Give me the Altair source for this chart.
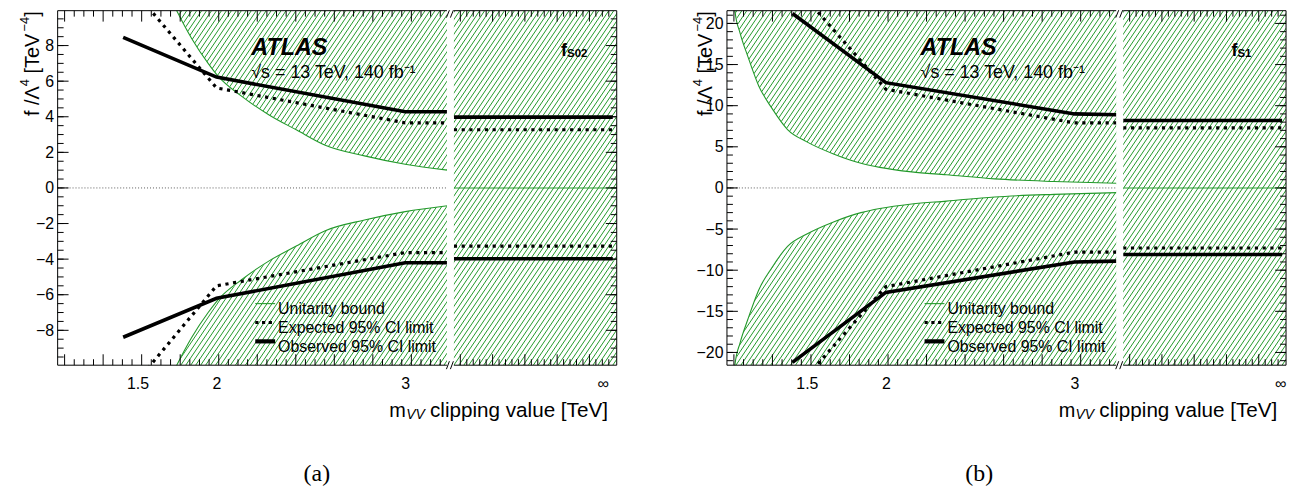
import altair as alt
import pandas as pd

# ---------------- values ----------------
# panel (a): f_S02
A_CLIP = [1.4, 2.0, 3.0, 3.2]
A_OBS_HI = [8.46, 6.23, 4.28, 4.28]
A_OBS_LO = [-8.39, -6.20, -4.20, -4.20]
A_EXP_HI = [11.8, 5.62, 3.66, 3.66]
A_EXP_LO = [-11.8, -5.50, -3.63, -3.63]
A_INF_OBS = [3.98, -3.98]
A_INF_EXP = [3.27, -3.27]
A_UB_X = [0.886, 1.757, 1.85, 1.95, 2.01, 2.145, 2.3, 2.45, 2.6, 2.8, 3.0, 3.2]
A_UB = [30.0, 9.96, 8.4, 7.0, 6.27, 5.16, 4.1, 3.25, 2.4, 1.8, 1.33, 1.0]
A_YMAX = 9.96
A_YMAJ = [-8, -6, -4, -2, 0, 2, 4, 6, 8]
A_YMIN = [v / 2 for v in range(-19, 20)]

# panel (b): f_S1
B_CLIP = [1.4, 2.0, 3.0, 3.2]
B_OBS_HI = [21.2, 12.8, 9.0, 8.9]
B_OBS_LO = [-21.2, -12.7, -9.0, -8.9]
B_EXP_HI = [24.9, 12.0, 7.9, 7.9]
B_EXP_LO = [-24.9, -12.0, -7.8, -7.8]
B_INF_OBS = [8.2, -8.1]
B_INF_EXP = [7.3, -7.3]
B_UB_X = [0.886, 0.956, 1.0, 1.063, 1.15, 1.25, 1.365, 1.5, 1.681, 1.85, 1.964, 2.15, 2.344, 2.6, 2.9, 3.2]
B_UB = [60.0, 21.5, 18.8, 16.0, 12.4, 9.7, 7.1, 5.6, 4.1, 3.0, 2.5, 1.95, 1.6, 1.1, 0.78, 0.57]
B_YMAX = 21.55
B_YMAJ = [-20, -15, -10, -5, 0, 5, 10, 15, 20]
B_YMIN = list(range(-21, 22))

X_TICKS = [1.5, 2, 3]
LEGEND_LABELS = ["Unitarity bound", "Expected 95% CI limit", "Observed 95% CI limit"]

# ---------------- layout / style ----------------
W, H = 563, 357
GAP0, GAP1 = 392, 399
XDOM = [0.8863, 3.950]
FONT = "Liberation Sans"
GREEN = "#22992a"

# y-title pieces: (text, leading space in em, advance in em, is_superscript)
YTITLE = [("f /Λ", 0.0, 1.501, False), ("4", 0.0, 0.556, True), ("[TeV", 0.278, 2.112, False),
          ("−4", 0.0, 1.140, True), ("]", 0.0, 0.278, False)]


def one():
    return pd.DataFrame({"o": [0]})


def txt(t, x, y, size, **kw):
    font = kw.pop("font", FONT)
    return alt.Chart(one()).mark_text(text=t, fontSize=size, font=font, color="black", **kw).encode(
        x=alt.value(x), y=alt.value(y))


def seg(x1, y1, x2, y2, color="black", width=1.0, dash=None, opacity=1.0):
    kw = dict(color=color, strokeWidth=width, opacity=opacity)
    if dash:
        kw["strokeDash"] = dash
    return alt.Chart(one()).mark_rule(**kw).encode(
        x=alt.value(x1), y=alt.value(y1), x2=alt.value(x2), y2=alt.value(y2))


def pix_ticks(start, step, n, every, limit):
    base = alt.Chart(alt.sequence(0, n, as_="k")).transform_calculate(
        px=f"{start} + {step} * datum.k").transform_filter(f"datum.px <= {limit}")
    out = []
    for major in (True, False):
        b = base.transform_filter(f"datum.k % {every} {'==' if major else '!='} 0")
        ln = 11 if major else 6
        for (y1, y2) in ((H, H - ln), (0, ln)):
            out.append(b.mark_rule(color="black", strokeWidth=1).encode(
                x=alt.X("px:Q", scale=None, axis=None), y=alt.value(y1), y2=alt.value(y2)))
    return out


def ytitle(xb):
    out = []
    y = 106.0
    for t, lead, em, sup in YTITLE:
        size = 13 if sup else 20
        y -= lead * size
        out.append(txt(t, xb - (8 if sup else 0), y, size, angle=270, align="left"))
        y -= em * size
    return out


def panel(P):
    xs = alt.Scale(type="pow", exponent=1.5, domain=XDOM, nice=False, zero=False)
    ys = alt.Scale(domain=[-P["ymax"], P["ymax"]], nice=False, zero=False)
    xaxis = alt.Axis(values=X_TICKS + [P["xinf"]],
                     labelExpr="datum.value > 3.5 ? '∞' : format(datum.value, '~g')",
                     ticks=False, tickSize=0, domain=False, grid=False, labelFont=FONT,
                     labelFontSize=16, labelPadding=10, labelColor="black", labelOverlap=False,
                     labelFlush=False, labelBound=False, title=None)
    yaxis = alt.Axis(values=P["ymaj"], ticks=False, tickSize=0, domain=False, grid=False,
                     labelFont=FONT, labelFontSize=16, labelPadding=4, labelColor="black",
                     labelOverlap=False, labelFlush=False, title=None)

    def X(f):
        return alt.X(f, type="quantitative", scale=xs, axis=xaxis)

    def Y(f):
        return alt.Y(f, type="quantitative", scale=ys, axis=yaxis)

    n = len(P["clip"])
    ub = pd.DataFrame({"x": P["ub_x"], "hi": P["ub"], "lo": [-v for v in P["ub"]]})
    obs = pd.DataFrame({"x": P["clip"] * 2, "v": P["obs_hi"] + P["obs_lo"], "b": ["hi"] * n + ["lo"] * n})
    exp = pd.DataFrame({"x": P["clip"] * 2, "v": P["exp_hi"] + P["exp_lo"], "b": ["hi"] * n + ["lo"] * n})
    inf_obs = pd.DataFrame({"v": P["inf_obs"]})
    inf_exp = pd.DataFrame({"v": P["inf_exp"]})

    main = [
        alt.Chart(ub).mark_area(color="white", opacity=1, clip=True, orient="vertical").encode(
            x=X("x"), y=Y("lo"), y2=alt.Y2("hi")),
        alt.Chart(ub).mark_line(color=GREEN, strokeWidth=1.1, clip=True, interpolate="monotone").encode(
            x=X("x"), y=Y("hi")),
        alt.Chart(ub).mark_line(color=GREEN, strokeWidth=1.1, clip=True, interpolate="monotone").encode(
            x=X("x"), y=Y("lo")),
        alt.Chart(one()).mark_rule(color="#333333", strokeWidth=0.8, strokeDash=[1, 2]).encode(
            x=alt.value(0), x2=alt.value(GAP0), y=alt.Y(datum=0, scale=ys, axis=yaxis)),
        alt.Chart(one()).mark_rule(color=GREEN, strokeWidth=1.1).encode(
            x=alt.value(GAP1), x2=alt.value(W), y=alt.Y(datum=0, scale=ys, axis=yaxis)),
        alt.Chart(exp).mark_line(color="black", strokeWidth=3.2, strokeDash=[3.2, 4.6], clip=True).encode(
            x=X("x"), y=Y("v"), detail="b:N"),
        alt.Chart(obs).mark_line(color="black", strokeWidth=3.6, clip=True).encode(
            x=X("x"), y=Y("v"), detail="b:N"),
        alt.Chart(inf_exp).mark_rule(color="black", strokeWidth=3.2, strokeDash=[3.2, 4.6]).encode(
            y=Y("v"), x=alt.value(GAP1), x2=alt.value(W - 4)),
        alt.Chart(inf_obs).mark_rule(color="black", strokeWidth=3.6).encode(
            y=Y("v"), x=alt.value(GAP1), x2=alt.value(W - 4)),
        alt.Chart(one()).mark_rect(color="white").encode(
            x=alt.value(GAP0), x2=alt.value(GAP1), y=alt.value(0), y2=alt.value(H)),
    ]
    # y ticks (left and right, inward)
    for vals, ln in ((P["ymaj"], 11), (P["ymin"], 6)):
        d = pd.DataFrame({"v": vals})
        main.append(alt.Chart(d).mark_rule(color="black", strokeWidth=1).encode(
            y=Y("v"), x=alt.value(0), x2=alt.value(ln)))
        main.append(alt.Chart(d).mark_rule(color="black", strokeWidth=1).encode(
            y=Y("v"), x=alt.value(W), x2=alt.value(W - ln)))
    # frame with axis break, plus an invisible guide fixing the left extent
    main += [
        seg(-49.5, -1, -49.5, H, opacity=0),
        seg(0, 0, 0, H), seg(W, 0, W, H),
        seg(0, 0, GAP0, 0), seg(GAP1, 0, W, 0),
        seg(0, H, GAP0, H), seg(GAP1, H, W, H),
        seg(391.5, H + 4, 394.5, H - 4), seg(395.5, H + 4, 398.5, H - 4),
        seg(391.5, 7, 394.5, -0.5), seg(395.5, 7, 398.5, -0.5),
    ]
    # texts
    main += [
        txt("ATLAS", 195, 38, 23.5, fontWeight="bold", fontStyle="italic", align="left"),
        txt("√s = 13 TeV, 140 fb⁻¹", 195, 63, 18, align="left"),
        txt("f", P["fx"], 41, 18, fontWeight="bold", align="left"),
        txt(P["sub"], P["fx"] + 6, 44, 11.5, fontWeight="bold", align="left"),
        txt("m", 334, H + 46, 20, align="left"),
        txt("VV", 351, H + 50, 14, fontStyle="italic", align="left"),
        txt("clipping value [TeV]", 375, H + 46, 20.8, align="left"),
        txt(P["tag"], P["tagx"], 467, 24, font="Liberation Serif", align="center"),
    ]
    main += ytitle(P["ytx"])
    # legend
    ly = [295, 314, 333]
    main += [
        seg(199, ly[0], 219, ly[0], color=GREEN, width=1.1),
        seg(199, ly[1], 219, ly[1], color="black", width=3.2, dash=[3.2, 3.6]),
        seg(199, ly[2], 219, ly[2], color="black", width=4.2),
    ]
    for i, lab in enumerate(LEGEND_LABELS):
        main.append(txt(lab, 222, ly[i] + 5.5, 16, align="left"))

    hatch = alt.Chart(alt.sequence(0, 170, as_="k")).transform_calculate(
        a="datum.k * 5.0 - 241", b="datum.k * 5.0").mark_rule(
        color=GREEN, strokeWidth=1.0, clip=True).encode(
        x=alt.X("a:Q", scale=None, axis=None), x2=alt.X2("b:Q"), y=alt.value(H), y2=alt.value(0))

    ticks = pix_ticks(7, 9.7, 42, 4, GAP0 - 2) + pix_ticks(GAP1 + 6.5, 6.5, 30, 5, W - 2)

    return alt.layer(hatch, alt.layer(*main), alt.layer(*ticks)).resolve_scale(
        x="independent").properties(width=W, height=H)


PA = dict(clip=A_CLIP, obs_hi=A_OBS_HI, obs_lo=A_OBS_LO, exp_hi=A_EXP_HI, exp_lo=A_EXP_LO,
          inf_obs=A_INF_OBS, inf_exp=A_INF_EXP, ub_x=A_UB_X, ub=A_UB, ymax=A_YMAX,
          ymaj=A_YMAJ, ymin=A_YMIN, sub="S02", fx=507, ytx=-25, tag="(a)", tagx=261, xinf=3.891)
PB = dict(clip=B_CLIP, obs_hi=B_OBS_HI, obs_lo=B_OBS_LO, exp_hi=B_EXP_HI, exp_lo=B_EXP_LO,
          inf_obs=B_INF_OBS, inf_exp=B_INF_EXP, ub_x=B_UB_X, ub=B_UB, ymax=B_YMAX,
          ymaj=B_YMAJ, ymin=B_YMIN, sub="S1", fx=508, ytx=-21, tag="(b)", tagx=254, xinf=3.925)

chart = alt.hconcat(panel(PA), panel(PB), spacing=60).properties(
    padding={"left": 0, "top": 0, "right": 5, "bottom": 5}
).configure_view(stroke=None)

chart.save("out.html", embed_options={"renderer": "svg", "actions": False})
